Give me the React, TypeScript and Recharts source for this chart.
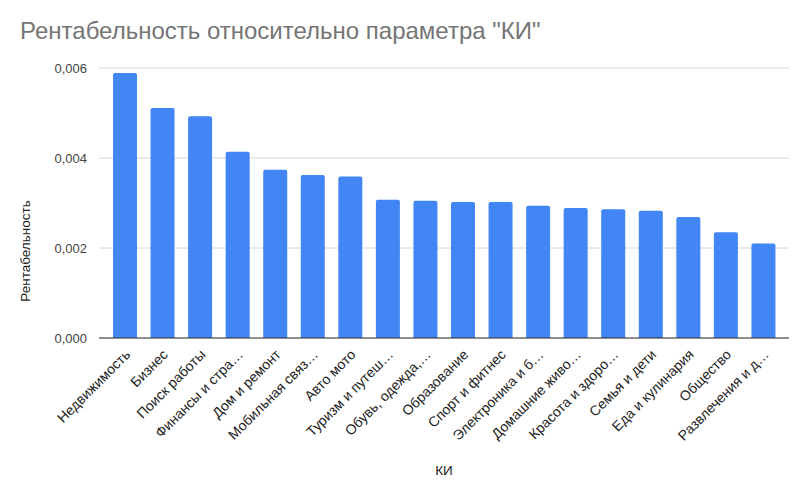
import React from 'react'
import { BarChart, Bar, XAxis, YAxis, CartesianGrid } from 'recharts'

const categories = [
  'Недвижимость',
  'Бизнес',
  'Поиск работы',
  'Финансы и стра…',
  'Дом и ремонт',
  'Мобильная связ…',
  'Авто мото',
  'Туризм и путеш…',
  'Обувь, одежда,…',
  'Образование',
  'Спорт и фитнес',
  'Электроника и б…',
  'Домашние живо…',
  'Красота и здоро…',
  'Семья и дети',
  'Еда и кулинария',
  'Общество',
  'Развлечения и д…',
]

const profitability = [
  0.00589, 0.00511, 0.00493, 0.00414, 0.00374, 0.00362, 0.00359, 0.00307, 0.00305,
  0.00302, 0.00302, 0.00294, 0.00289, 0.00286, 0.00283, 0.00269, 0.00235, 0.0021,
]

const yTicks = [0, 0.002, 0.004, 0.006]

const data = categories.map((name, i) => ({ name, value: profitability[i] }))

const FONT = '"Liberation Sans", Arial, sans-serif'

const fmt = (v: number): string => v.toFixed(3).replace('.', ',')

function XTick({ x, y, payload }: { x?: number; y?: number; payload?: { value: string } }) {
  const tx = (x ?? 0) + 3
  const ty = y ?? 0
  return (
    <text
      x={tx}
      y={ty}
      dy="0.35em"
      textAnchor="end"
      transform={`rotate(-45, ${tx}, ${ty})`}
      fill="#222"
      fontSize={14}
      fontFamily={FONT}
    >
      {payload?.value}
    </text>
  )
}

export default function App() {
  return (
    <div style={{ position: 'absolute', left: 0, top: 0, width: 807, height: 495, background: '#fff', fontFamily: FONT }}>
      <svg width={807} height={495} style={{ position: 'absolute', left: 0, top: 0 }}>
        <text x={20} y={39} fontSize={24} fill="#757575" fontFamily={FONT}>
          Рентабельность относительно параметра "КИ"
        </text>
        <text x={30} y={251} fontSize={13.5} fill="#222" fontFamily={FONT} textAnchor="middle" transform="rotate(-90, 30, 251)">
          Рентабельность
        </text>
        <text x={444} y={475} fontSize={13.5} fill="#222" fontFamily={FONT} textAnchor="middle">
          КИ
        </text>
      </svg>
      <div style={{ position: 'absolute', left: 0, top: 0 }}>
        <BarChart width={807} height={495} data={data} margin={{ top: 68, right: 18, bottom: 0, left: 0 }}>
          <CartesianGrid vertical={false} stroke="#d6d6d6" />
          <XAxis
            dataKey="name"
            interval={0}
            padding={{ left: 7, right: 7 }}
            axisLine={{ stroke: '#333' }}
            tickLine={false}
            tickMargin={8}
            tick={<XTick />}
            height={157}
          />
          <YAxis
            width={99}
            domain={[0, 0.006]}
            ticks={yTicks}
            tickFormatter={fmt}
            axisLine={false}
            tickLine={false}
            tickMargin={6}
            tick={{ fill: '#444', fontSize: 13, fontFamily: FONT }}
          />
          <Bar dataKey="value" fill="#4285f4" barSize={24} radius={[2, 2, 0, 0]} isAnimationActive={false} />
        </BarChart>
      </div>
    </div>
  )
}
